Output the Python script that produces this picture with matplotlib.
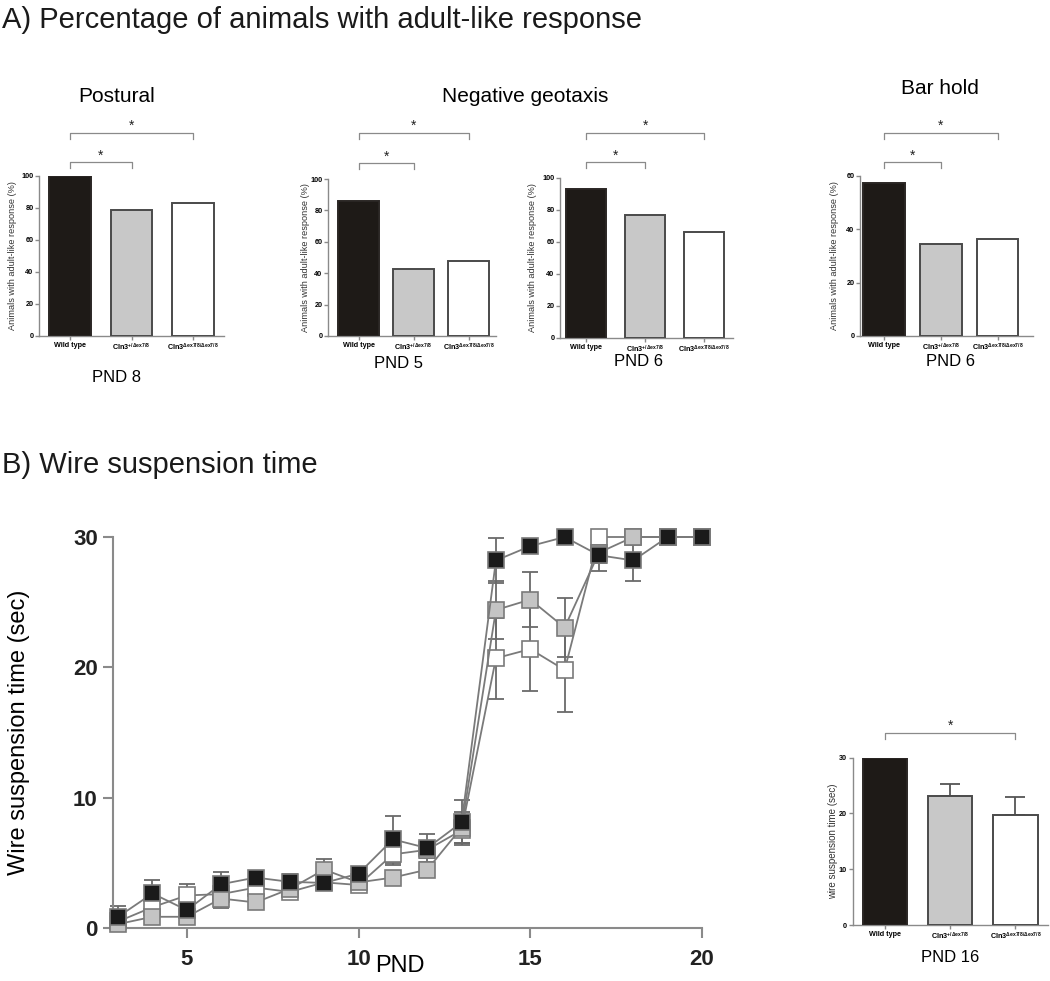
import matplotlib
matplotlib.use('Agg')
import matplotlib.pyplot as plt
import matplotlib.transforms as mtransforms

plt.rcParams['font.family'] = ['Liberation Sans', 'DejaVu Sans']

W, H = 1050, 981

# ---------------- data ----------------
genotypes = ['Wild type',
             r'Cln3$^{\mathregular{+/\Delta ex7/8}}$',
             r'Cln3$^{\mathregular{\Delta ex7/8/\Delta ex7/8}}$']
postural_pnd8 = [100, 79, 83]
neggeo_pnd5 = [86, 42.5, 47.5]
neggeo_pnd6 = [93, 77, 66.5]
barhold_pnd6 = [57.5, 34.5, 36.5]

pnd = [3, 4, 5, 6, 7, 8, 9, 10, 11, 12, 13, 14, 15, 16, 17, 18, 19, 20]
wt_mean = [0.86, 2.65, 1.37, 3.36, 3.87, 3.54, 3.46, 4.17, 6.8, 6.13, 8.1,
           28.2, 29.3, 30.0, 28.6, 28.2, 30.0, 30.0]
wt_sem = [0.85, 1.0, 0.7, 0.9, 0.4, 0.6, 0.5, 0.5, 1.8, 1.1, 1.7,
          1.7, 0.5, 0.0, 1.2, 1.6, 0.0, 0.0]
het_mean = [0.3, 0.86, 0.86, 2.26, 1.96, 3.0, 4.48, 3.5, 3.87, 4.48, 7.7,
            24.4, 25.2, 23.05, 28.8, 30.0, 30.0, 30.0]
het_sem = [0.2, 0.5, 0.4, 0.7, 0.5, 0.4, 0.8, 0.4, 0.5, 0.5, 1.2,
           2.2, 2.1, 2.25, 0.8, 0.0, 0.0, 0.0]
hom_mean = [0.5, 1.6, 2.5, 2.6, 3.1, 2.77, 3.5, 3.3, 5.65, 6.0, 7.5,
            20.7, 21.4, 19.8, 30.0, 30.0, 30.0, 30.0]
hom_sem = [0.4, 0.6, 0.9, 0.6, 0.7, 0.5, 0.5, 0.5, 0.8, 0.6, 1.0,
           3.1, 3.2, 3.2, 0.0, 0.0, 0.0, 0.0]

wire_pnd16_mean = [30.0, 23.05, 19.8]
wire_pnd16_sem = [0.0, 2.25, 3.2]

bar_fill = ['#1e1a17', '#c8c8c8', '#ffffff']
bar_edge = ['#2a2624', '#4a4a4a', '#4a4a4a']
axis_col = '#8a8a8a'

fig = plt.figure(figsize=(W / 100, H / 100), dpi=100)


def rect(l, t, r, b):
    return [l / W, 1 - b / H, (r - l) / W, (b - t) / H]


def ftext(px, py, s, **kw):
    fig.text(px / W, 1 - py / H, s, **kw)


def style_axes(ax, tick_fs, lw=1.0, length=3):
    for sp in ['top', 'right']:
        ax.spines[sp].set_visible(False)
    for sp in ['left', 'bottom']:
        ax.spines[sp].set_color(axis_col)
        ax.spines[sp].set_linewidth(lw)
    ax.tick_params(axis='both', direction='out', length=length, width=lw,
                   color=axis_col, labelsize=tick_fs, pad=1.5)


def bracket(ax, x0, x1, py, star_py, h=6):
    tr = mtransforms.blended_transform_factory(ax.transData, fig.transFigure)
    y = 1 - py / H
    dh = h / H
    ax.plot([x0, x0, x1, x1], [y - dh, y, y, y - dh], color='#8a8a8a',
            lw=0.9, transform=tr, clip_on=False)
    ax.text((x0 + x1) / 2, 1 - star_py / H, '*', transform=tr, ha='center',
            va='center', fontsize=10, color='#222222')


def bar_panel(rc, values, xlim, ymax, yticks, ylabel_px, width):
    l, t, r, b = rc
    ax = fig.add_axes(rect(l, t, r, b))
    x = list(range(len(values)))
    ax.bar(x, values, width=width, color=bar_fill, edgecolor=bar_edge,
           linewidth=1.4, zorder=3)
    ax.set_xlim(*xlim)
    ax.set_ylim(0, ymax)
    ax.set_yticks(yticks)
    ax.set_xticks(x)
    ax.set_xticklabels(genotypes)
    style_axes(ax, 5.2)
    ax.tick_params(axis='x', pad=1)
    ax.tick_params(axis='y', pad=1)
    for lb in ax.get_xticklabels() + ax.get_yticklabels():
        lb.set_fontweight('bold')
    ax.set_ylabel('Animals with adult-like response (%)', fontsize=6.6,
                  color='#333333')
    # label anchor = right edge of rotated text
    ax.yaxis.set_label_coords((ylabel_px + 4 - l) / (r - l), 0.5)
    return ax


# ---------------- Panel A ----------------
ftext(2, 20, 'A) Percentage of animals with adult-like response',
      fontsize=21, va='center', ha='left', color='#1a1a1a')
ftext(117, 96, 'Postural', fontsize=15, ha='center', va='center')
ftext(525, 97, 'Negative geotaxis', fontsize=15, ha='center', va='center')
ftext(940, 89, 'Bar hold', fontsize=15, ha='center', va='center')

ax1 = bar_panel((39, 176, 224, 336), postural_pnd8, (-0.5, 2.5), 100,
                [0, 20, 40, 60, 80, 100], 13, 0.68)
bracket(ax1, 0, 2, 133, 126)
bracket(ax1, 0, 1, 162, 156)
ftext(117, 377, 'PND 8', fontsize=12, ha='center', va='center')

ax2 = bar_panel((328, 179, 496, 336), neggeo_pnd5, (-0.56, 2.5), 100,
                [0, 20, 40, 60, 80, 100], 306, 0.74)
bracket(ax2, 0, 2, 133, 126)
bracket(ax2, 0, 1, 163, 157)
ftext(398, 364, 'PND 5', fontsize=12, ha='center', va='center')

ax3 = bar_panel((560, 178, 733, 338), neggeo_pnd6, (-0.44, 2.49), 100,
                [0, 20, 40, 60, 80, 100], 533, 0.68)
bracket(ax3, 0, 2, 133, 126)
bracket(ax3, 0, 1, 162, 156)
ftext(639, 362, 'PND 6', fontsize=12, ha='center', va='center')

ax4 = bar_panel((860, 176, 1033, 336), barhold_pnd6, (-0.42, 2.62), 60,
                [0, 20, 40, 60], 835, 0.73)
bracket(ax4, 0, 2, 133, 126)
bracket(ax4, 0, 1, 162, 156)
ftext(950, 361, 'PND 6', fontsize=12, ha='center', va='center')

# ---------------- Panel B ----------------
ftext(2, 465, 'B) Wire suspension time', fontsize=21, va='center',
      ha='left', color='#1a1a1a')

L, T, R, B = 113, 537, 702, 928
axb = fig.add_axes(rect(L, T, R, B))
series = [
    (hom_mean, hom_sem, '#ffffff', 3),
    (het_mean, het_sem, '#c4c4c4', 4),
    (wt_mean, wt_sem, '#1a1a1a', 5),
]
for mean, sem, fc, z in series:
    cont = axb.errorbar(pnd, mean, yerr=sem, fmt='none', ecolor='#6a6a6a',
                        elinewidth=1.3, capsize=6, capthick=1.3, zorder=1)
    for art in cont.get_children():
        art.set_clip_on(False)
        art.set_zorder(1)
for mean, sem, fc, z in series:
    axb.plot(pnd, mean, '-s', color='#7a7a7a', lw=1.3, ms=12, mfc=fc,
             mec='#7a7a7a', mew=1.2, zorder=z, clip_on=False)
axb.set_xlim(2.85, 20)
axb.set_ylim(0, 30)
axb.set_xticks([5, 10, 15, 20])
axb.set_yticks([0, 10, 20, 30])
style_axes(axb, 16, lw=1.5, length=7)
axb.tick_params(axis='x', pad=8)
axb.tick_params(axis='y', pad=4)
for lb in axb.get_xticklabels() + axb.get_yticklabels():
    lb.set_fontweight('bold')
    lb.set_color('#222222')
axb.set_ylabel('Wire suspension time (sec)', fontsize=17)
axb.yaxis.set_label_coords((30 - L) / (R - L), 0.5)
axb.set_xlabel('PND', fontsize=17)
axb.xaxis.set_label_coords((400 - L) / (R - L), -(955 - B) / (B - T))

# inset bar chart PND 16
l, t, r, b = 853, 757.7, 1048, 925
axi = fig.add_axes(rect(l, t, r, b))
xi = list(range(3))
axi.bar(xi, wire_pnd16_mean, width=0.68, color=bar_fill, edgecolor=bar_edge,
        linewidth=1.4, zorder=3,
        yerr=[[0, 0, 0], wire_pnd16_sem], capsize=7,
        error_kw=dict(ecolor='#555555', elinewidth=1.3, capthick=1.3,
                      zorder=2))
axi.set_xlim(-0.49, 2.5)
axi.set_ylim(0, 30)
axi.set_yticks([0, 10, 20, 30])
axi.set_xticks(xi)
axi.set_xticklabels(genotypes)
style_axes(axi, 5.2)
axi.tick_params(axis='x', pad=1)
for lb in axi.get_xticklabels() + axi.get_yticklabels():
    lb.set_fontweight('bold')
axi.set_ylabel('wire suspension time (sec)', fontsize=7, color='#333333')
axi.yaxis.set_label_coords((838 - l) / (r - l), 0.5)
bracket(axi, 0, 2, 733, 726)
ftext(950, 957, 'PND 16', fontsize=12, ha='center', va='center')

fig.savefig('out.png', dpi=100)
